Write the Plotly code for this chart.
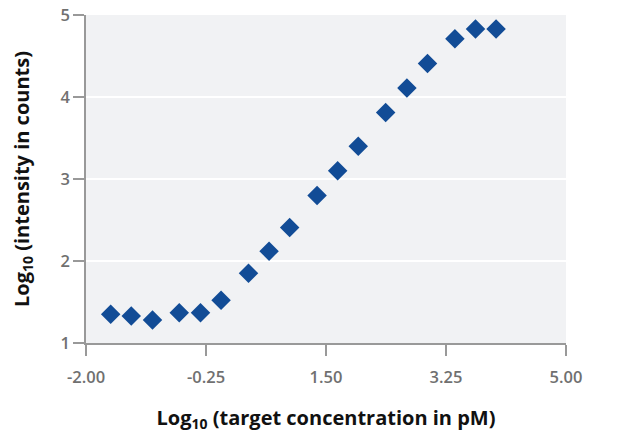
import plotly.graph_objects as go

log_conc = [-1.64, -1.34, -1.03, -0.64, -0.33, -0.03, 0.37, 0.67, 0.97,
            1.37, 1.67, 1.97, 2.37, 2.68, 2.98, 3.38, 3.68, 3.98]
log_intensity = [1.35, 1.33, 1.28, 1.37, 1.37, 1.52, 1.85, 2.12, 2.41,
                 2.80, 3.10, 3.40, 3.81, 4.11, 4.41, 4.71, 4.83, 4.83]
x_ticks = [-2.0, -0.25, 1.5, 3.25, 5.0]
x_tick_labels = ["-2.00", "-0.25", "1.50", "3.25", "5.00"]
y_ticks = [1, 2, 3, 4, 5]

fig = go.Figure()
fig.add_trace(go.Scatter(
    x=log_conc, y=log_intensity, mode="markers",
    marker=dict(symbol="diamond", size=15, color="#124c96"),
    showlegend=False,
))

tick_font = dict(family="Open Sans", size=16.5, color="#707070", weight=600)
title_font = dict(family="Open Sans", size=20, color="#111111")

fig.update_layout(
    width=618, height=438,
    margin=dict(l=86, r=52, t=15, b=95),
    paper_bgcolor="white",
    plot_bgcolor="#f1f2f4",
    font=dict(family="Open Sans"),
)
fig.update_xaxes(
    range=[-2, 5], tickvals=x_ticks, ticktext=x_tick_labels,
    showgrid=False, zeroline=False, automargin=False,
    showline=True, linecolor="#999999", linewidth=1.5,
    ticks="outside", ticklen=11, tickcolor="#999999", tickwidth=1.5,
    tickfont=tick_font, ticklabelstandoff=7,
    title=dict(text="<b>Log<sub>10</sub> (target concentration in pM)</b>",
               font=title_font, standoff=24),
)
fig.update_yaxes(
    range=[1, 5], tickvals=y_ticks,
    showgrid=True, gridcolor="white", gridwidth=1.5, zeroline=False,
    automargin=False,
    showline=True, linecolor="#999999", linewidth=1.5,
    ticks="outside", ticklen=11, tickcolor="#999999", tickwidth=1.5,
    tickfont=tick_font,
    title=dict(text="<b>Log<sub>10</sub> (intensity in counts)</b>",
               font=title_font, standoff=26),
)

fig.write_html(
    "out.html",
    config={"displayModeBar": False},
    post_script="document.body.style.margin='0';document.body.style.overflow='hidden';",
)
